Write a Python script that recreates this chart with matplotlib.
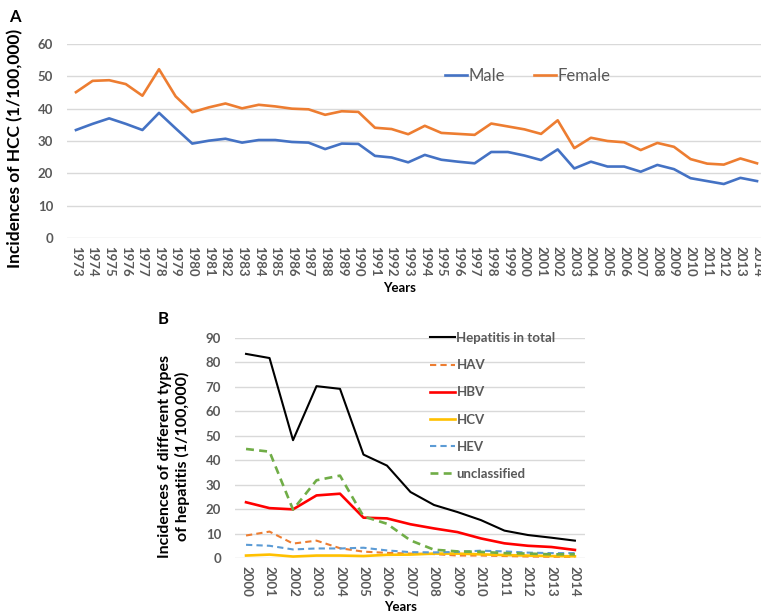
import matplotlib
matplotlib.use("Agg")
import matplotlib.pyplot as plt

plt.rcParams["font.family"] = ["Lato", "DejaVu Sans"]

# Panel A data
years_a = list(range(1973, 2015))
male = [33.4, 35.3, 37.0, 35.3, 33.4, 38.7, 33.9, 29.2, 30.1, 30.7,
        29.5, 30.3, 30.3, 29.7, 29.5, 27.5, 29.2, 29.1, 25.4, 24.9,
        23.4, 25.7, 24.2, 23.6, 23.1, 26.6, 26.6, 25.5, 24.1, 27.4,
        21.5, 23.6, 22.1, 22.1, 20.5, 22.6, 21.3, 18.5, 17.6, 16.7,
        18.6, 17.6]
female = [45.1, 48.6, 48.8, 47.6, 44.0, 52.2, 43.8, 38.9, 40.4, 41.6,
          40.1, 41.2, 40.7, 40.0, 39.8, 38.1, 39.2, 39.0, 34.1, 33.7,
          32.1, 34.7, 32.5, 32.2, 31.9, 35.4, 34.5, 33.6, 32.2, 36.4,
          27.8, 31.0, 30.0, 29.6, 27.2, 29.4, 28.2, 24.4, 23.0, 22.7,
          24.6, 23.1]

# Panel B data
years_b = list(range(2000, 2015))
total = [83.5, 81.8, 48.2, 70.3, 69.2, 42.3, 37.8, 27.0, 21.7, 18.8,
         15.5, 11.2, 9.4, 8.3, 7.1]
hav = [9.2, 10.8, 5.9, 7.1, 4.0, 2.6, 2.1, 1.8, 1.6, 1.0,
       1.0, 0.8, 0.6, 0.5, 0.5]
hbv = [22.8, 20.4, 19.9, 25.6, 26.3, 16.5, 16.2, 13.8, 12.1, 10.6,
       8.0, 6.0, 5.0, 4.5, 3.3]
hcv = [1.0, 1.4, 0.6, 1.0, 1.0, 0.8, 1.3, 1.4, 1.8, 1.8,
       1.5, 1.2, 1.0, 0.8, 0.7]
hev = [5.4, 5.0, 3.5, 3.9, 3.9, 4.2, 3.1, 2.4, 2.3, 2.5,
       3.0, 2.7, 2.2, 2.0, 2.0]
uncl = [44.6, 43.5, 19.8, 31.8, 33.7, 17.0, 14.0, 7.2, 3.4, 2.7,
        2.5, 2.0, 1.8, 1.5, 1.5]

gray = "#595959"
grid_c = "#d9d9d9"

fig = plt.figure(figsize=(7.61, 6.14), dpi=100)


def style_axes(ax, ymax, step, labels):
    for s in ax.spines.values():
        s.set_visible(False)
    ax.set_ylim(0, ymax)
    ax.set_yticks(range(0, ymax + 1, step))
    ax.yaxis.grid(True, color=grid_c, linewidth=1.0)
    ax.set_axisbelow(True)
    ax.set_xticks(range(len(labels)))
    ax.set_xticklabels(labels, rotation=-90)
    ax.tick_params(axis="y", length=0, pad=10, labelsize=9.5, labelcolor=gray)
    ax.tick_params(axis="x", length=0, pad=6, labelsize=9.5, labelcolor=gray)
    for t in ax.get_xticklabels() + ax.get_yticklabels():
        t.set_fontweight("bold")


# ---- Panel A ----
axA = fig.add_axes([67 / 761, 1 - 238 / 614, 694 / 761, 194 / 614])
xa = range(len(years_a))
axA.plot(xa, male, color="#4472C4", lw=1.9, label="Male")
axA.plot(xa, female, color="#ED7D31", lw=1.9, label="Female")
style_axes(axA, 60, 10, [str(y) for y in years_a])
axA.set_xlim(-0.54, len(years_a) - 1 + 0.24)
axA.legend(loc="center left", bbox_to_anchor=(445 / 761, 1 - 76 / 614),
           bbox_transform=fig.transFigure, ncol=2, frameon=False,
           fontsize=12, labelcolor=gray, handlelength=1.3, handletextpad=0.1,
           columnspacing=1.75, borderpad=0, borderaxespad=0)

fig.text(15 / 761, 1 - 148 / 614, "Incidences of HCC (1/100,000)", rotation=90,
         ha="center", va="center", fontsize=12.5, fontweight="bold")
fig.text(400 / 761, 1 - 288 / 614, "Years", ha="center", va="center",
         fontsize=9.5, fontweight="bold")
fig.text(15 / 761, 1 - 17 / 614, "A", ha="center", va="center",
         fontsize=12, fontweight="bold")

# ---- Panel B ----
axB = fig.add_axes([235 / 761, 1 - 558 / 614, 350 / 761, 220 / 614])
xb = range(len(years_b))
axB.plot(xb, total, color="black", lw=1.5, label="Hepatitis in total")
axB.plot(xb, hav, color="#ED7D31", lw=1.5, ls=(0, (3, 2)), label="HAV")
axB.plot(xb, hbv, color="#FF0000", lw=1.9, label="HBV")
axB.plot(xb, hcv, color="#FFC000", lw=1.9, label="HCV")
axB.plot(xb, hev, color="#5B9BD5", lw=1.5, ls=(0, (3, 2)), label="HEV")
axB.plot(xb, uncl, color="#70AD47", lw=1.9, ls=(0, (3, 2)), label="unclassified")
style_axes(axB, 90, 10, [str(y) for y in years_b])
axB.set_xlim(-0.47, len(years_b) - 1 + 0.43)
legB = axB.legend(loc="upper left", bbox_to_anchor=(430 / 761, 1 - 332 / 614),
                  bbox_transform=fig.transFigure, frameon=False, fontsize=9.5,
                  labelcolor=gray, handlelength=1.9, handletextpad=0.1,
                  labelspacing=1.15, borderpad=0, borderaxespad=0)
for t in legB.get_texts():
    t.set_fontweight("bold")

fig.text(174 / 761, 1 - 456 / 614,
         "Incidences of different types\nof hepatitis (1/100,000)",
         rotation=90, ha="center", va="center", fontsize=11.5,
         fontweight="bold", multialignment="center", linespacing=1.2)
fig.text(401 / 761, 1 - 607 / 614, "Years", ha="center", va="center",
         fontsize=9.5, fontweight="bold")
fig.text(163 / 761, 1 - 319 / 614, "B", ha="center", va="center",
         fontsize=12, fontweight="bold")

fig.savefig("out.png", dpi=100)
